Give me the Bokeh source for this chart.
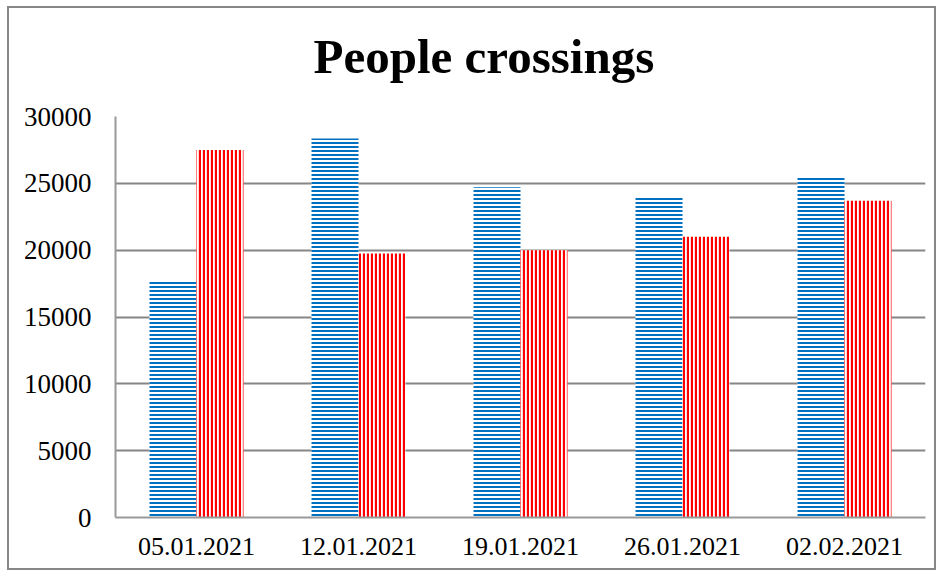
from bokeh.plotting import figure
from bokeh.models import ColumnDataSource, Range1d, FixedTicker, Title
from bokeh.transform import dodge
from bokeh.embed import file_html
from bokeh.resources import INLINE

# Data
dates = ["05.01.2021", "12.01.2021", "19.01.2021", "26.01.2021", "02.02.2021"]
series_blue = [17650, 28350, 24700, 24000, 25500]
series_red = [27500, 19750, 20000, 21000, 23700]
y_ticks = [0, 5000, 10000, 15000, 20000, 25000, 30000]
title_text = "People crossings"

src = ColumnDataSource(dict(date=dates, blue=series_blue, red=series_red))

p = figure(x_range=dates, y_range=Range1d(0, 30000), width=929, height=564,
           output_backend="svg", toolbar_location=None, title=None,
           min_border_left=106, min_border_right=13, min_border_top=108, min_border_bottom=55)
p.styles = {"border": "2px solid #878787", "margin-left": "7px", "margin-top": "6px"}

p.vbar(x=dodge("date", -0.145, range=p.x_range), top="blue", width=0.29, source=src,
       fill_color="white", line_color=None, hatch_pattern="horizontal_line",
       hatch_color="#0070C0", hatch_scale=4, hatch_weight=2)
p.vbar(x=dodge("date", 0.145, range=p.x_range), top="red", width=0.29, source=src,
       fill_color="white", line_color=None, hatch_pattern="vertical_line",
       hatch_color="#FF0000", hatch_scale=4, hatch_weight=2.3)

# spacer between title and plot area
spacer = Title(text=" ", text_font_size="20px", standoff=9)
p.add_layout(spacer, "above")
main_title = Title(text=title_text, text_font="Liberation Serif", text_font_style="bold",
                   text_font_size="49px", text_color="black", align="left", offset=198,
                   standoff=0)
p.add_layout(main_title, "above")

p.outline_line_color = None
p.xgrid.grid_line_color = None
p.ygrid.grid_line_color = "#868686"
p.ygrid.grid_line_width = 2
p.yaxis.ticker = FixedTicker(ticks=y_ticks)

for ax in (p.xaxis[0], p.yaxis[0]):
    ax.axis_line_color = "#9a9a9a"
    ax.axis_line_width = 2
    ax.major_tick_line_color = None
    ax.minor_tick_line_color = None
    ax.major_label_text_font = "Liberation Serif"
    ax.major_label_text_font_size = "26px"
    ax.major_label_text_color = "black"
p.yaxis.major_label_text_font_size = "27px"
p.yaxis.major_label_standoff = 18
p.xaxis.major_label_standoff = 14
p.y_range.start = 0

open("out.html", "w").write(file_html(p, INLINE))
